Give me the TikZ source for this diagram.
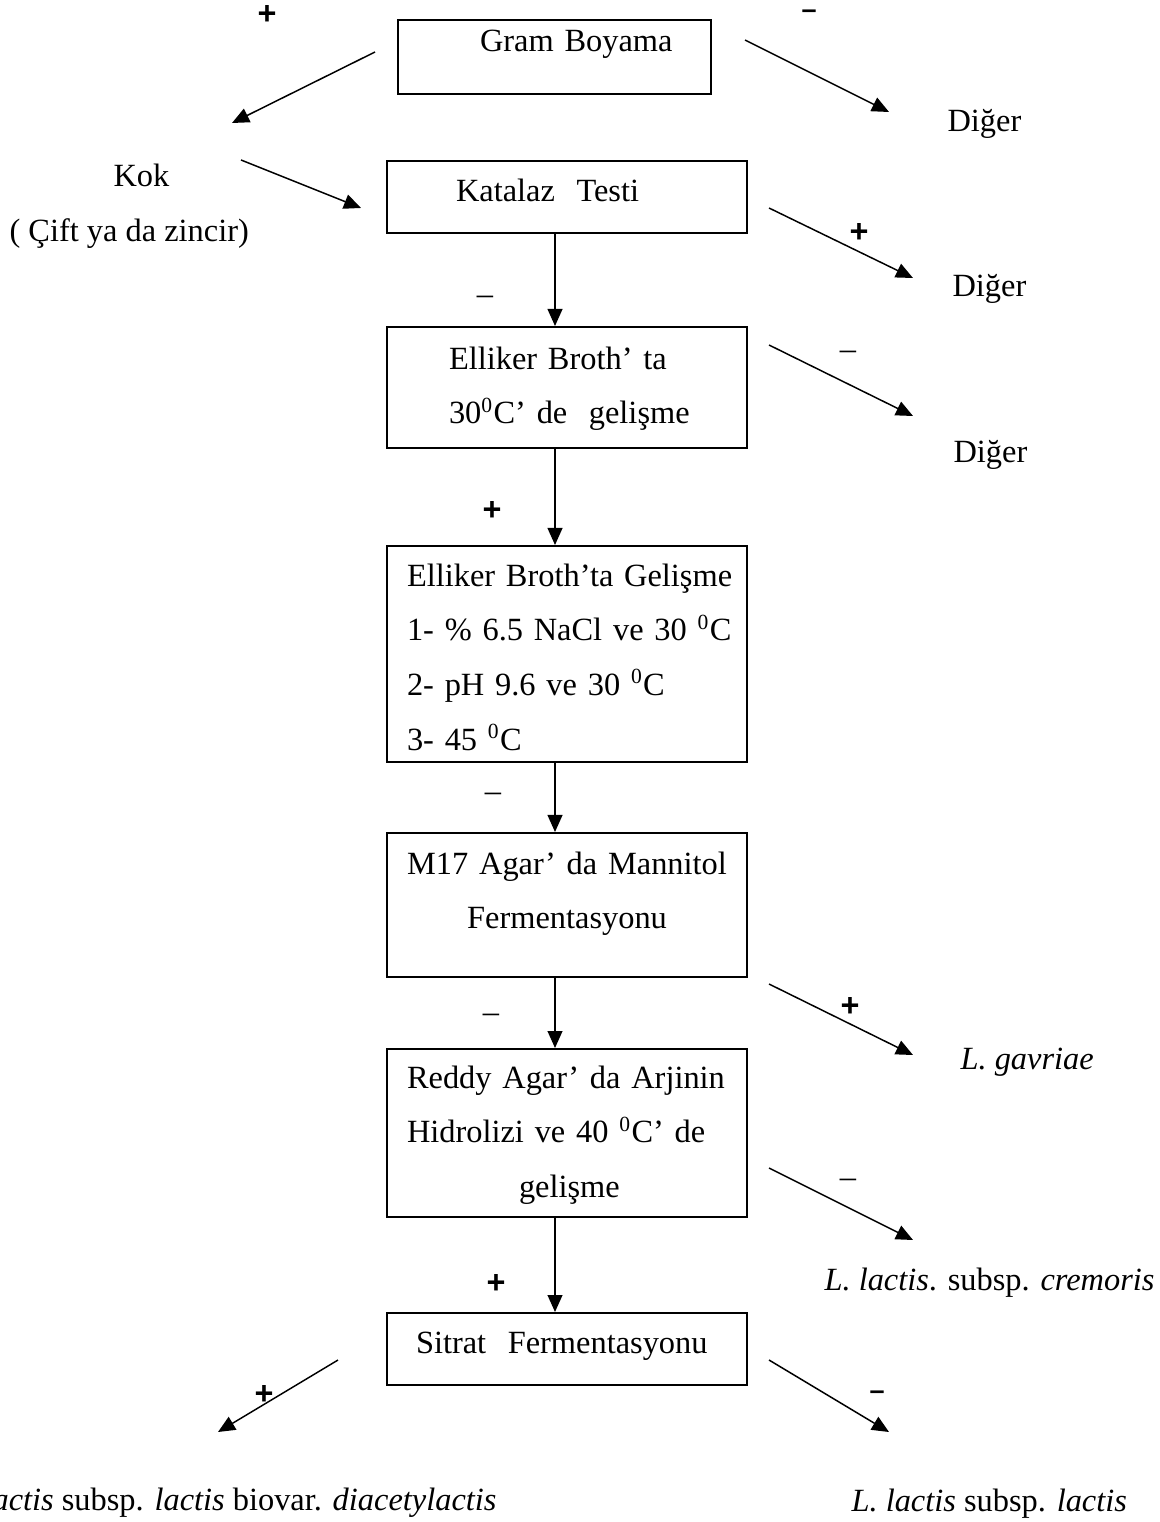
\documentclass[tikz,border=0pt]{standalone}
\usepackage{fontspec}
\setmainfont{Liberation Serif}
\newfontfamily\signfont{Liberation Sans}
\usetikzlibrary{arrows.meta}
\newdimen\px \px=0.3704pt

\begin{document}
\begin{tikzpicture}[x=0.3704pt, y=-0.3704pt,
    box/.style={draw, line width=0.75pt, anchor=north west, inner sep=0pt, align=left,
      text width=360\px, font=\fontsize{12pt}{20.3pt}\selectfont},
    lbl/.style={anchor=base west, inner sep=0pt, font=\fontsize{12pt}{14pt}\selectfont},
    plussign/.style={inner sep=0pt, font=\signfont\bfseries\fontsize{12pt}{14pt}\selectfont},
    boldminus/.style={inner sep=0pt, font=\signfont\bfseries\fontsize{10pt}{12pt}\selectfont},
    thinminus/.style={inner sep=0pt, font=\fontsize{12pt}{14pt}\selectfont},
    arr/.style={line width=0.55pt, -{Triangle[length=6.3pt,width=5.5pt]}}]
  \useasboundingbox (0,0) rectangle (1159,1522);

  \node[box, text width=313\px, text height=31\px, text depth=43\px] (gram) at (397,19)
    {\hspace*{82\px}Gram Boyama};
  \node[box, text height=40\px, text depth=32\px] (katalaz) at (386,160)
    {\hspace*{69\px}Katalaz\ \ Testi};
  \node[box, text height=42\px, text depth=79\px] (elliker) at (386,326)
    {\hspace*{62\px}Elliker Broth’ ta\\
     \hspace*{62\px}30\textsuperscript{0}C’ de\ \ gelişme};
  \node[box, text height=40\px, text depth=176\px] (gelisme) at (386,545)
    {\hspace*{20\px}Elliker Broth’ta Gelişme\\
     \hspace*{20\px}1- \% 6.5 NaCl ve 30 \textsuperscript{0}C\\
     \hspace*{20\px}2- pH 9.6 ve 30 \textsuperscript{0}C\\
     \hspace*{20\px}3- 45 \textsuperscript{0}C};
  \node[box, align=center, text height=41\px, text depth=103\px] (mannitol) at (386,832)
    {M17 Agar’ da Mannitol\\Fermentasyonu};
  \node[box, text height=39\px, text depth=129\px] (reddy) at (386,1048)
    {\hspace*{20\px}Reddy Agar’ da Arjinin\\
     \hspace*{20\px}Hidrolizi ve 40 \textsuperscript{0}C’ de\\
     \hspace*{132\px}gelişme};
  \node[box, text height=40\px, text depth=32\px] (sitrat) at (386,1312)
    {\hspace*{29\px}Sitrat\ \ Fermentasyonu};

  \node[lbl] (kok) at (113,187) {Kok};
  \node[lbl] (cift) at (9,242) {( Çift ya da zincir)};
  \node[lbl] (diger1) at (947,132) {Diğer};
  \node[lbl] (diger2) at (952,297) {Diğer};
  \node[lbl] (diger3) at (953,462) {Diğer};
  \node[lbl] (gavriae) at (960,1069) {\textit{L. gavriae}};
  \node[lbl] (cremoris) at (824,1290) {\textit{L. lactis}. subsp. \textit{cremoris}};
  \node[lbl, anchor=base east] (diacetyl) at (497,1510)
    {\textit{L. lactis} subsp. \textit{lactis} biovar. \textit{diacetylactis}};
  \node[lbl] (lactis) at (851,1511) {\textit{L. lactis} subsp. \textit{lactis}};

  \coordinate (spine) at (555,0);
  \draw[arr] (katalaz.south -| spine) -- (elliker.north -| spine);
  \draw[arr] (elliker.south -| spine) -- (gelisme.north -| spine);
  \draw[arr] (gelisme.south -| spine) -- (mannitol.north -| spine);
  \draw[arr] (mannitol.south -| spine) -- (reddy.north -| spine);
  \draw[arr] (reddy.south -| spine) -- (sitrat.north -| spine);

  \coordinate (gramL) at (375,52);    \coordinate (kokTip) at (232,123);
  \coordinate (gramR) at (745,40);    \coordinate (diger1Tip) at (889,112);
  \coordinate (kokR) at (241,160);    \coordinate (katalazTip) at (361,208);
  \coordinate (katalazR) at (769,208); \coordinate (diger2Tip) at (913,278);
  \coordinate (ellikerR) at (769,345); \coordinate (diger3Tip) at (913,416);
  \coordinate (mannitolR) at (769,984); \coordinate (gavriaeTip) at (913,1055);
  \coordinate (reddyR) at (769,1168);  \coordinate (cremorisTip) at (913,1240);
  \coordinate (sitratL) at (338,1360); \coordinate (diacetylTip) at (218,1432);
  \coordinate (sitratR) at (769,1360); \coordinate (lactisTip) at (889,1432);
  \draw[arr] (gramL) -- (kokTip);
  \draw[arr] (gramR) -- (diger1Tip);
  \draw[arr] (kokR) -- (katalazTip);
  \draw[arr] (katalazR) -- (diger2Tip);
  \draw[arr] (ellikerR) -- (diger3Tip);
  \draw[arr] (mannitolR) -- (gavriaeTip);
  \draw[arr] (reddyR) -- (cremorisTip);
  \draw[arr] (sitratL) -- (diacetylTip);
  \draw[arr] (sitratR) -- (lactisTip);

  \node[plussign] (s1) at (267,15) {+};
  \node[boldminus] (s2) at (809,14) {–};
  \node[plussign] (s3) at (859,233) {+};
  \node[thinminus] (s4) at (485,300) {–};
  \node[thinminus] (s5) at (848,355) {–};
  \node[plussign] (s6) at (492,511) {+};
  \node[thinminus] (s7) at (493,797) {–};
  \node[thinminus] (s8) at (491,1018) {–};
  \node[plussign] (s9) at (850,1007) {+};
  \node[thinminus] (s10) at (848,1183) {–};
  \node[plussign] (s11) at (496,1284) {+};
  \node[plussign] (s12) at (264,1395) {+};
  \node[boldminus] (s13) at (877,1395) {–};
\end{tikzpicture}
\end{document}
